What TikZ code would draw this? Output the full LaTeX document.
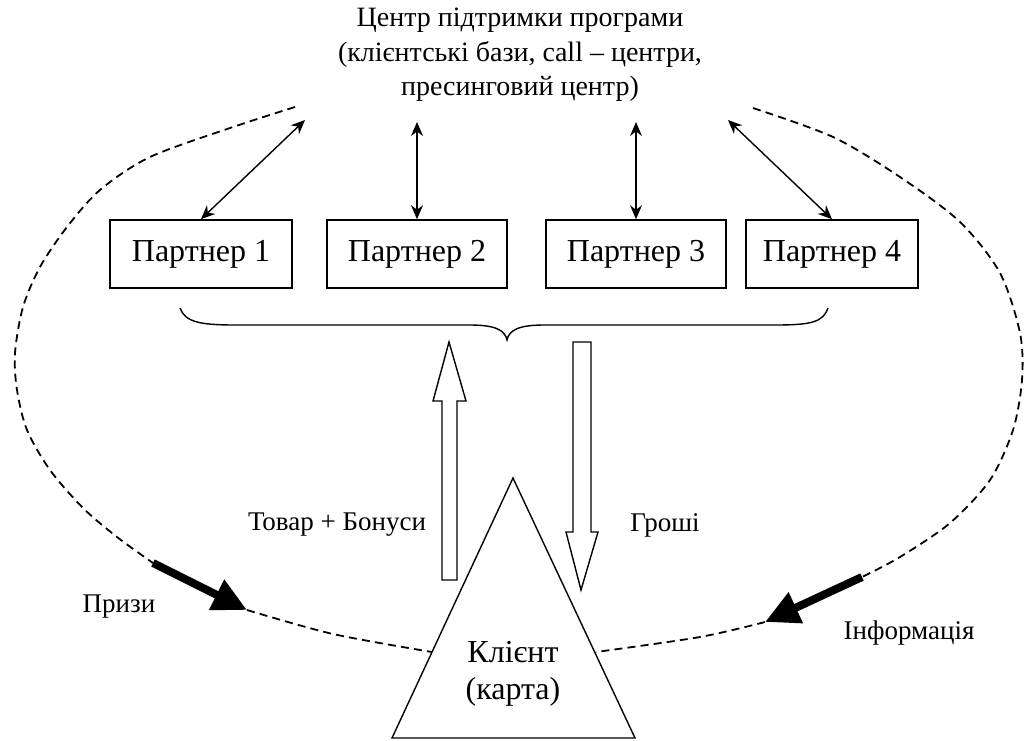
\documentclass[tikz,border=0pt]{standalone}
\usepackage{fontspec}
\setmainfont{Liberation Serif}
\usetikzlibrary{arrows.meta}

\begin{document}
\begin{tikzpicture}[x=0.5pt, y=-0.5pt,
    partner/.style={draw, line width=0.8pt, minimum width=90pt, minimum height=34pt, inner sep=0pt, font=\fontsize{16}{19}\selectfont},
    link/.style={line width=0.7pt, {Stealth[length=7pt,width=6pt]}-{Stealth[length=7pt,width=6pt]}},
    loop/.style={line width=0.9pt, dash pattern=on 4pt off 2.6pt},
    flow/.style={line width=0.7pt, fill=white},
    push/.style={line width=4pt, -{Triangle[length=17pt,width=16pt]}},
    lbl/.style={font=\fontsize{13.5}{16}\selectfont}]
        \useasboundingbox (0,0) rectangle (1033,740);

        % Support centre
        \node[align=center, font=\fontsize{14}{17.3}\selectfont] (centre) at (520,55)
          {Центр підтримки програми\\(клієнтські бази, call -- центри,\\пресинговий центр)};
        \coordinate (c1) at (305,120);
        \coordinate (c2) at (417,122);
        \coordinate (c3) at (636,122);
        \coordinate (c4) at (728,120);

        % Partners
        \node[partner, minimum width=91pt] (p1) at (201,254) {Партнер 1};
        \node[partner] (p2) at (417,254) {Партнер 2};
        \node[partner] (p3) at (636,254) {Партнер 3};
        \node[partner, minimum width=86pt] (p4) at (832,254) {Партнер 4};

        \draw[link] (p1.north) -- (c1);
        \draw[link] (p2.north) -- (c2);
        \draw[link] (p3.north) -- (c3);
        \draw[link] (p4.north) -- (c4);

        % Brace under the partners
        \draw[line width=0.7pt] (180,308) .. controls (185,322) and (200,325) .. (235,325) -- (470,325)
          .. controls (495,325) and (505,330) .. (507,340)
          .. controls (509,330) and (519,325) .. (544,325) -- (775,325)
          .. controls (812,325) and (823,322) .. (828,308);

        % Client
        \coordinate (left) at (392,738);
        \coordinate (apex) at (513,478);
        \coordinate (right) at (635,738);
        \draw[line width=0.7pt] (left) -- (apex) -- (right) -- cycle;
        \node[align=center, font=\fontsize{16}{18.5}\selectfont] (client) at (513,674) {Клієнт\\(карта)};

        % Goods and money
        \draw[flow] (442,580) -- (457,580) -- (457,401) -- (466,401) -- (449,342) -- (433,401) -- (442,401) -- cycle;
        \draw[flow] (573,342) -- (591,342) -- (591,532) -- (598,532) -- (581,590) -- (566,532) -- (573,532) -- cycle;
        \node[lbl] (goods) at (337,525) {Товар + Бонуси};
        \node[lbl] (money) at (665,525) {Гроші};

        % Loop on the left
        \draw[loop] plot[smooth] coordinates {(295,107) (233,127) (150,157) (100,190) (67,227) (40,267)
          (23,307) (15,353) (17,390) (27,430) (50,470) (83,508) (117,537) (153,563)};
        \coordinate (prizeA) at (153,563);
        \coordinate (prizeB) at (247,610);
        \draw[push] (prizeA) -- (prizeB);
        \draw[loop] plot[smooth] coordinates {(247,610) (333,634) (432,652)};
        \node[lbl] (prizes) at (119,607) {Призи};

        % Loop on the right
        \draw[loop] plot[smooth] coordinates {(753,108) (833,137) (900,177) (960,222) (1000,273)
          (1020,333) (1022,380) (1013,430) (990,480) (950,523) (900,557) (862,577)};
        \coordinate (infoA) at (862,577);
        \coordinate (infoB) at (765,622);
        \draw[push] (infoA) -- (infoB);
        \draw[loop] plot[smooth] coordinates {(765,622) (700,637) (596,652)};
        \node[lbl] (info) at (909,633) {Інформація};
      \end{tikzpicture}
\end{document}
